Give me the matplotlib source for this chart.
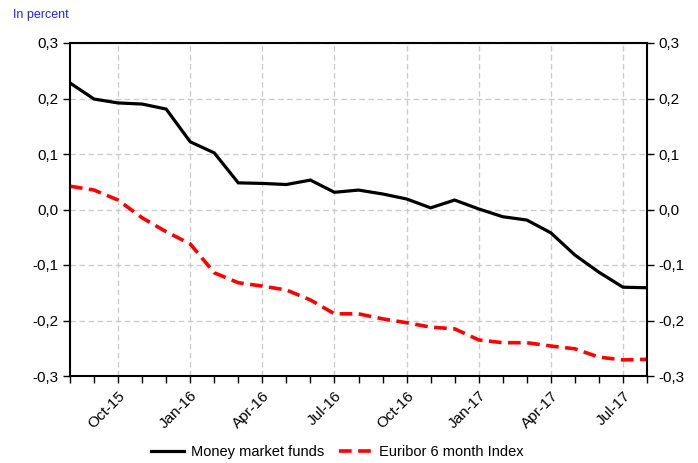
import matplotlib
matplotlib.use("Agg")
import matplotlib.pyplot as plt
import numpy as np

plt.rcParams['font.family'] = ['Liberation Sans', 'DejaVu Sans']

months = ["Aug-15","Sep-15","Oct-15","Nov-15","Dec-15","Jan-16","Feb-16","Mar-16","Apr-16",
          "May-16","Jun-16","Jul-16","Aug-16","Sep-16","Oct-16","Nov-16","Dec-16","Jan-17",
          "Feb-17","Mar-17","Apr-17","May-17","Jun-17","Jul-17","Aug-17"]
mmf = [0.228, 0.199, 0.192, 0.190, 0.181, 0.122, 0.102, 0.048, 0.047, 0.045, 0.053, 0.031,
       0.035, 0.028, 0.019, 0.003, 0.017, 0.001, -0.013, -0.019, -0.042, -0.082, -0.113,
       -0.140, -0.141]
euribor = [0.042, 0.035, 0.017, -0.015, -0.040, -0.062, -0.114, -0.132, -0.138, -0.145,
           -0.163, -0.188, -0.188, -0.197, -0.204, -0.212, -0.215, -0.235, -0.240, -0.240,
           -0.246, -0.251, -0.266, -0.271, -0.270]
tick_labels = ["Oct-15","Jan-16","Apr-16","Jul-16","Oct-16","Jan-17","Apr-17","Jul-17"]
yticks = [-0.3, -0.2, -0.1, 0.0, 0.1, 0.2, 0.3]

fig = plt.figure(figsize=(6.98, 4.63), dpi=100)
ax = fig.add_axes([70/698, 1-376/463, (647-70)/698, (376-43)/463])

x = np.arange(len(months))
ax.plot(x, mmf, color='black', lw=2.3, label='Money market funds', solid_joinstyle='miter')
ax.plot(x, euribor, color='#ff0000', lw=2.6, dashes=(3.5, 1.8), label='Euribor 6 month Index')

ax.set_xlim(0, len(months)-1)
ax.set_ylim(-0.3, 0.3)

major_pos = [months.index(m) for m in tick_labels]
ax.set_xticks(major_pos)
ax.set_xticklabels(tick_labels, rotation=45, ha='right', rotation_mode='anchor', fontsize=11)
ax.set_xticks(x, minor=True)
ax.tick_params(axis='x', which='both', direction='out', length=5, width=1, pad=4)

ax.set_yticks(yticks)
ylab = [f"{v:.1f}".replace('.', ',') for v in yticks]
ax.set_yticklabels(ylab, fontsize=11)
ax.tick_params(axis='y', which='both', direction='out', length=5, width=1, right=True,
               labelright=True, pad=3)

ax.grid(True, which='major', color='#cccccc', ls=(0, (4, 2.5)), lw=1)
for s in ax.spines.values():
    s.set_linewidth(1.5)
    s.set_color('black')

fig.text(13/698, 1-15/463, "In percent", color='#2222ff', fontsize=9, va='center', ha='left')

ax.legend(loc='center', bbox_to_anchor=(0.463, -0.228), ncol=2, frameon=False, fontsize=10.5,
          handlelength=2.25, columnspacing=1.0, handletextpad=0.5)

fig.savefig("out.png", dpi=100)
